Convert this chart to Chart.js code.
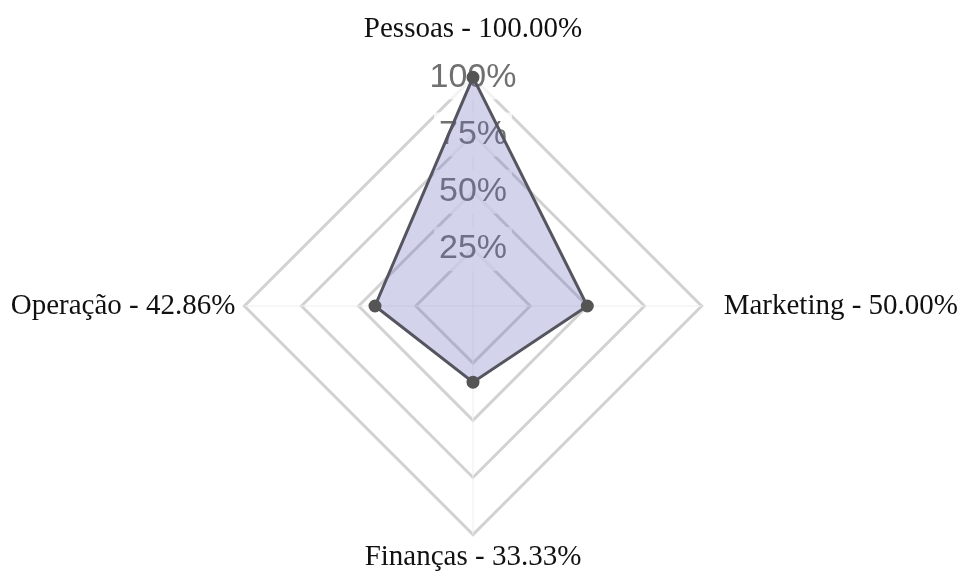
<!DOCTYPE html>
<html>
<head>
<meta charset="utf-8">
<script src="https://cdn.jsdelivr.net/npm/chart.js@4"></script>
<style>
    html, body { margin: 0; padding: 0; background: #fff; }
    #wrap { width: 969px; height: 576px; }
</style>
</head>
<body>
<div id="wrap"><canvas id="radarChart"></canvas></div>
<script>
// Areas and their scores (percent)
const areas = ['Pessoas', 'Marketing', 'Finanças', 'Operação'];
const scores = [100.00, 50.00, 33.33, 42.86];
const tickValues = [0, 25, 50, 75, 100];

const FILL = 'rgba(110, 110, 190, 0.3)';
const LINE = '#555560';
const POINT = '#555555';

// distance of each area label from the outer ring (top, right, bottom, left)
const LABEL_PADDING = [21.5, 0, -3.5, -13];

function createRadarChart() {
    const ctx = document.getElementById('radarChart').getContext('2d');

    return new Chart(ctx, {
        type: 'radar',
        data: {
            labels: areas.map((a, i) => `${a} - ${scores[i].toFixed(2)}%`),
            datasets: [{
                label: 'Pontuação',
                data: scores,
                backgroundColor: FILL,
                borderColor: LINE,
                borderWidth: 3,
                fill: true,
                pointBackgroundColor: POINT,
                pointBorderColor: POINT,
                pointRadius: 5
            }]
        },
        options: {
            responsive: true,
            maintainAspectRatio: false,
            animation: false,
            layout: { padding: { top: 13, bottom: 0, left: 0, right: 0 } },
            plugins: {
                legend: { display: false },
                tooltip: { enabled: false }
            },
            scales: {
                r: {
                    min: 0,
                    max: 100,
                    afterBuildTicks: scale => {
                        scale.ticks = tickValues.map(v => ({ value: v }));
                    },
                    angleLines: { color: '#eeeeee', lineWidth: 1 },
                    grid: { color: '#d2d2d2', lineWidth: 3 },
                    pointLabels: {
                        color: '#111',
                        padding: c => LABEL_PADDING[c.index],
                        // tight line box so the labels take little room in the fit
                        font: { family: "'Liberation Serif', 'Times New Roman', serif", size: 29, lineHeight: 0.276 }
                    },
                    ticks: {
                        color: '#707070',
                        showLabelBackdrop: true,
                        backdropColor: 'rgba(255, 255, 255, 0.75)',
                        backdropPadding: 5,
                        font: { family: "'Liberation Sans', Arial, sans-serif", size: 34 },
                        callback: v => v + '%'
                    }
                }
            }
        }
    });
}

document.addEventListener('DOMContentLoaded', createRadarChart);
</script>
</body>
</html>
